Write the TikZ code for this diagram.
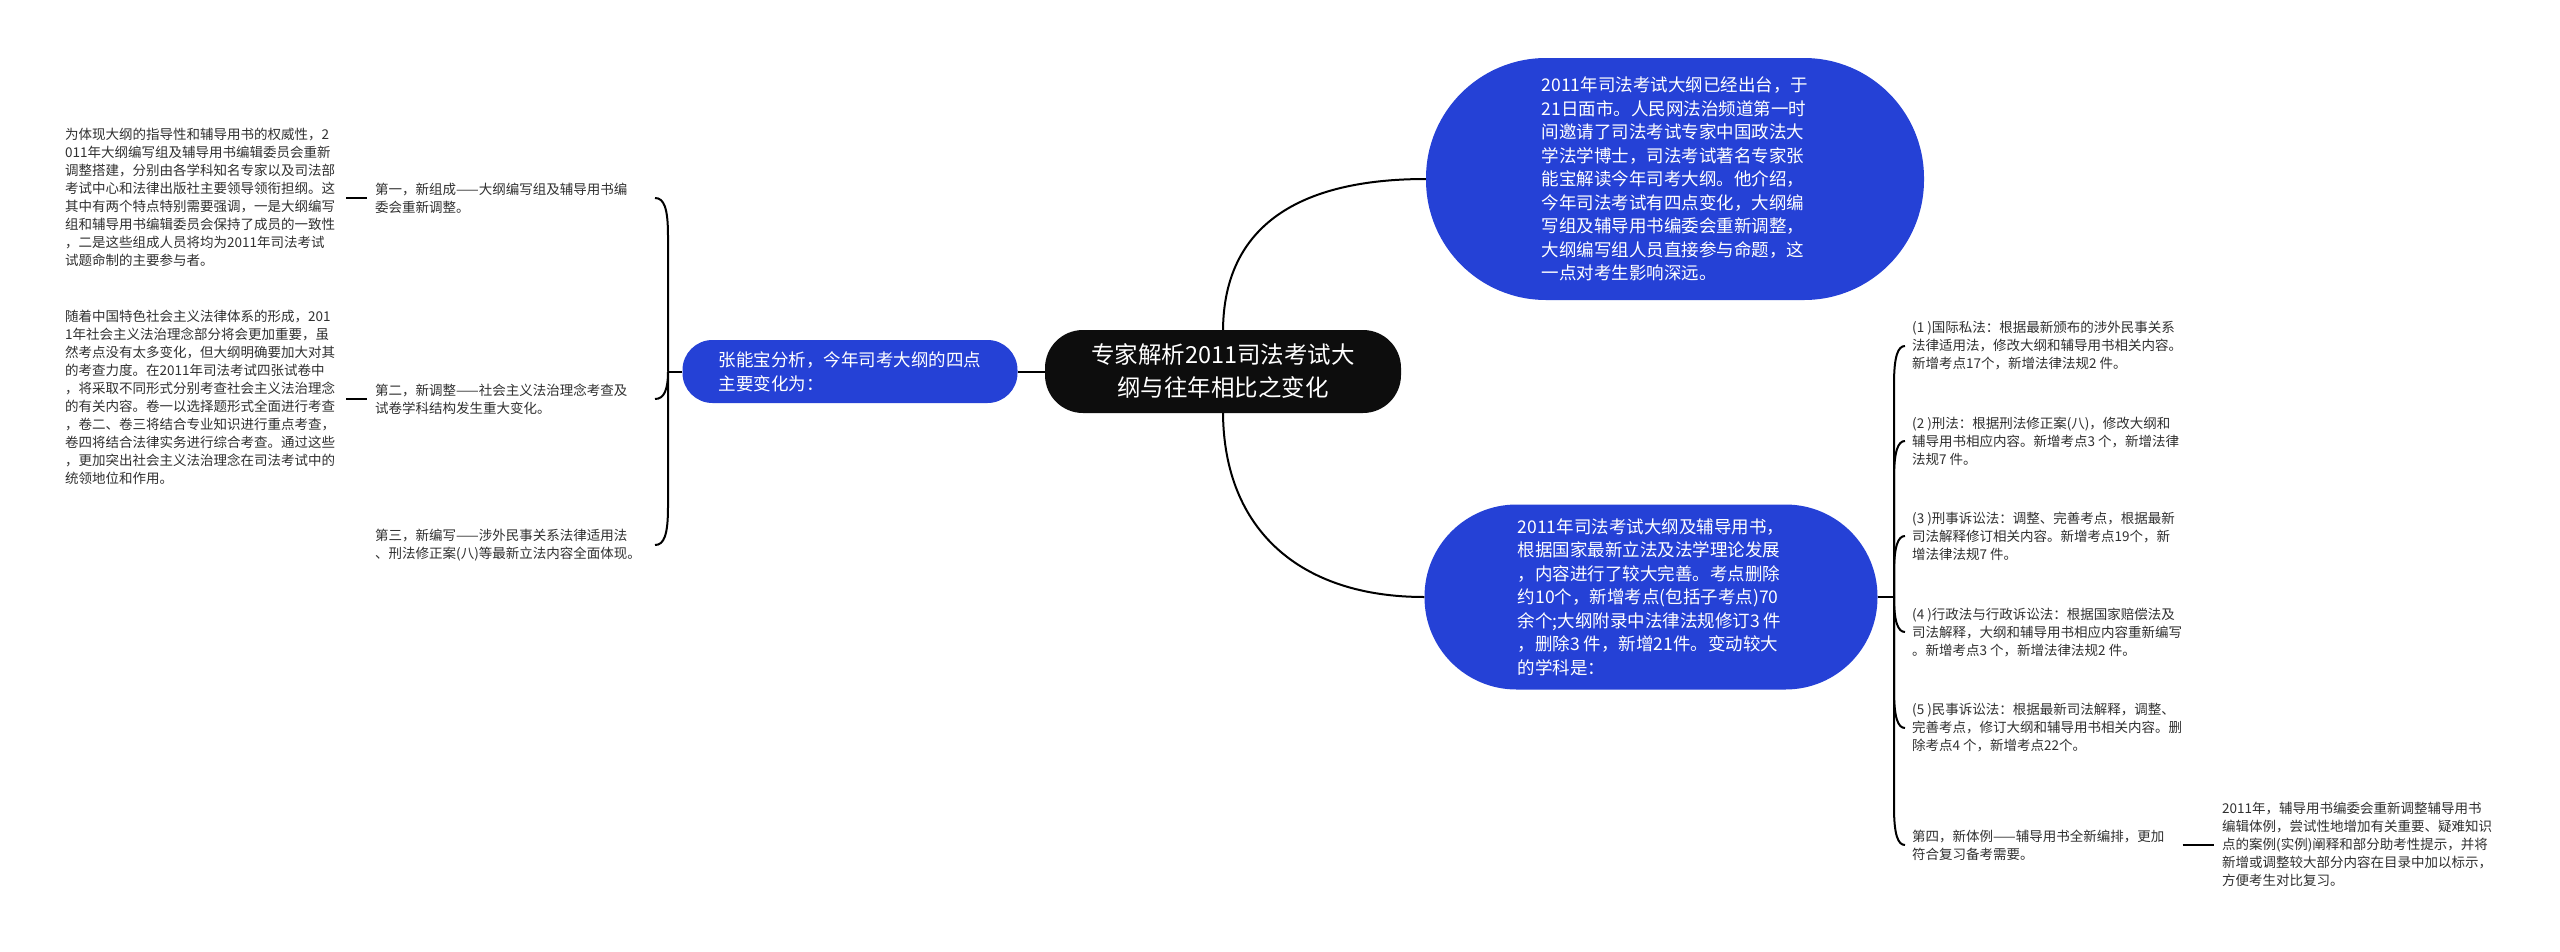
\documentclass[tikz,border=0pt]{standalone}
\usepackage{fontspec}
\setmainfont{Noto Sans CJK SC}
\definecolor{nodeblue}{HTML}{2541D6}
\definecolor{rootblack}{HTML}{0D0D0D}
\definecolor{txtgray}{HTML}{303030}
\begin{document}
\begin{tikzpicture}[x=1pt,y=-1pt,
  conn/.style={draw=black, line width=2pt},
  tick/.style={draw=black, line width=2.6pt},
  small/.style={text=txtgray, align=left, inner sep=0pt, anchor=west, font=\fontsize{13.5pt}{18pt}\selectfont},
  bluebox/.style={fill=nodeblue, text=white, align=left, inner sep=0pt, font=\fontsize{17.5pt}{23.5pt}\selectfont},
  rootbox/.style={fill=rootblack, text=white, align=center, inner sep=0pt, font=\fontsize{23.5pt}{33pt}\selectfont}
]
\fill[white] (0,0) rectangle (2560,951);
\useasboundingbox (0,0) rectangle (2560,951);

% main nodes
\node[rootbox, minimum width=356pt, minimum height=83pt, rounded corners=38pt] (root) at (1223,371.5)
  {专家解析2011司法考试大\\纲与往年相比之变化};
\node[bluebox, minimum width=335pt, minimum height=63pt, rounded corners=30pt, font=\fontsize{17.5pt}{24pt}\selectfont] (L) at (850,371.5)
  {张能宝分析，今年司考大纲的四点\\主要变化为：};
\node[bluebox, minimum width=498pt, minimum height=242pt, rounded corners=120pt] (TR) at (1675,179)
  {2011年司法考试大纲已经出台，于\\21日面市。人民网法治频道第一时\\间邀请了司法考试专家中国政法大\\学法学博士，司法考试著名专家张\\能宝解读今年司考大纲。他介绍，\\今年司法考试有四点变化，大纲编\\写组及辅导用书编委会重新调整，\\大纲编写组人员直接参与命题，这\\一点对考生影响深远。};
\node[bluebox, minimum width=453pt, minimum height=185pt, rounded corners=92pt] (BR) at (1651,597)
  {2011年司法考试大纲及辅导用书，\\根据国家最新立法及法学理论发展\\，内容进行了较大完善。考点删除\\约10个，新增考点(包括子考点)70\\余个;大纲附录中法律法规修订3 件\\，删除3 件，新增21件。变动较大\\的学科是：};

% left texts
\node[small] (A) at (65,197)
  {为体现大纲的指导性和辅导用书的权威性，2\\011年大纲编写组及辅导用书编辑委员会重新\\调整搭建，分别由各学科知名专家以及司法部\\考试中心和法律出版社主要领导领衔担纲。这\\其中有两个特点特别需要强调，一是大纲编写\\组和辅导用书编辑委员会保持了成员的一致性\\，二是这些组成人员将均为2011年司法考试\\试题命制的主要参与者。};
\node[small] (N1) at (375,198)
  {第一，新组成——大纲编写组及辅导用书编\\委会重新调整。};
\node[small] (B) at (65,397)
  {随着中国特色社会主义法律体系的形成，201\\1年社会主义法治理念部分将会更加重要，虽\\然考点没有太多变化，但大纲明确要加大对其\\的考查力度。在2011年司法考试四张试卷中\\，将采取不同形式分别考查社会主义法治理念\\的有关内容。卷一以选择题形式全面进行考查\\，卷二、卷三将结合专业知识进行重点考查，\\卷四将结合法律实务进行综合考查。通过这些\\，更加突出社会主义法治理念在司法考试中的\\统领地位和作用。};
\node[small] (N2) at (375,399)
  {第二，新调整——社会主义法治理念考查及\\试卷学科结构发生重大变化。};
\node[small] (N3) at (375,545)
  {第三，新编写——涉外民事关系法律适用法\\、刑法修正案(八)等最新立法内容全面体现。};

% right texts
\node[small] (R1) at (1912,346)
  {(1 )国际私法：根据最新颁布的涉外民事关系\\法律适用法，修改大纲和辅导用书相关内容。\\新增考点17个，新增法律法规2 件。};
\node[small] (R2) at (1912,441)
  {(2 )刑法：根据刑法修正案(八)，修改大纲和\\辅导用书相应内容。新增考点3 个，新增法律\\法规7 件。};
\node[small] (R3) at (1912,536)
  {(3 )刑事诉讼法：调整、完善考点，根据最新\\司法解释修订相关内容。新增考点19个，新\\增法律法规7 件。};
\node[small] (R4) at (1912,632)
  {(4 )行政法与行政诉讼法：根据国家赔偿法及\\司法解释，大纲和辅导用书相应内容重新编写\\。新增考点3 个，新增法律法规2 件。};
\node[small] (R5) at (1912,728)
  {(5 )民事诉讼法：根据最新司法解释，调整、\\完善考点，修订大纲和辅导用书相关内容。删\\除考点4 个，新增考点22个。};
\node[small] (N4) at (1912,845)
  {第四，新体例——辅导用书全新编排，更加\\符合复习备考需要。};
\node[small] (F) at (2222,844)
  {2011年，辅导用书编委会重新调整辅导用书\\编辑体例，尝试性地增加有关重要、疑难知识\\点的案例(实例)阐释和部分助考性提示，并将\\新增或调整较大部分内容在目录中加以标示，\\方便考生对比复习。};

% connector points
\coordinate (jL) at (668,371.5);
\coordinate (e1) at (655,198);
\coordinate (e2) at (655,399);
\coordinate (e3) at (655,545);
\coordinate (jR) at (1894,597);
\coordinate (f1) at (1905,346);
\coordinate (f2) at (1905,441);
\coordinate (f3) at (1905,536);
\coordinate (f4) at (1905,632);
\coordinate (f5) at (1905,728);
\coordinate (f6) at (1905,845);

% root connectors
\draw[conn] (root.west) -- (L.east);
\draw[conn] (root.north) .. controls (1224,225) and (1300,179) .. (TR.west);
\draw[conn] (root.south) .. controls (1224,530) and (1300,597) .. (BR.west);

% left bracket
\draw[conn] (L.west) -- (jL);
\draw[conn] (jL) -- (668,236) .. controls (668,208) and (664,198) .. (e1);
\draw[conn] (jL) .. controls (668,390) and (664,399) .. (e2);
\draw[conn] (jL) -- (668,507) .. controls (668,535) and (664,545) .. (e3);

% right bracket
\draw[conn] (BR.east) -- (jR);
\draw[conn] (jR) -- (1894,384) .. controls (1894,356) and (1898,346) .. (f1);
\draw[conn] (jR) -- (1894,479) .. controls (1894,451) and (1898,441) .. (f2);
\draw[conn] (jR) -- (1894,574) .. controls (1894,546) and (1898,536) .. (f3);
\draw[conn] (jR) .. controls (1894,622) and (1898,632) .. (f4);
\draw[conn] (jR) -- (1894,690) .. controls (1894,718) and (1898,728) .. (f5);
\draw[conn] (jR) -- (1894,807) .. controls (1894,835) and (1898,845) .. (f6);

% short ticks
\draw[tick, shorten <=11pt, shorten >=8pt] (A.east |- N1.west) -- (N1.west);
\draw[tick, shorten <=11pt, shorten >=8pt] (B.east |- N2.west) -- (N2.west);
\draw[tick, shorten <=18pt, shorten >=8pt] (N4.east) -- (N4.east -| F.west);
\end{tikzpicture}
\end{document}
